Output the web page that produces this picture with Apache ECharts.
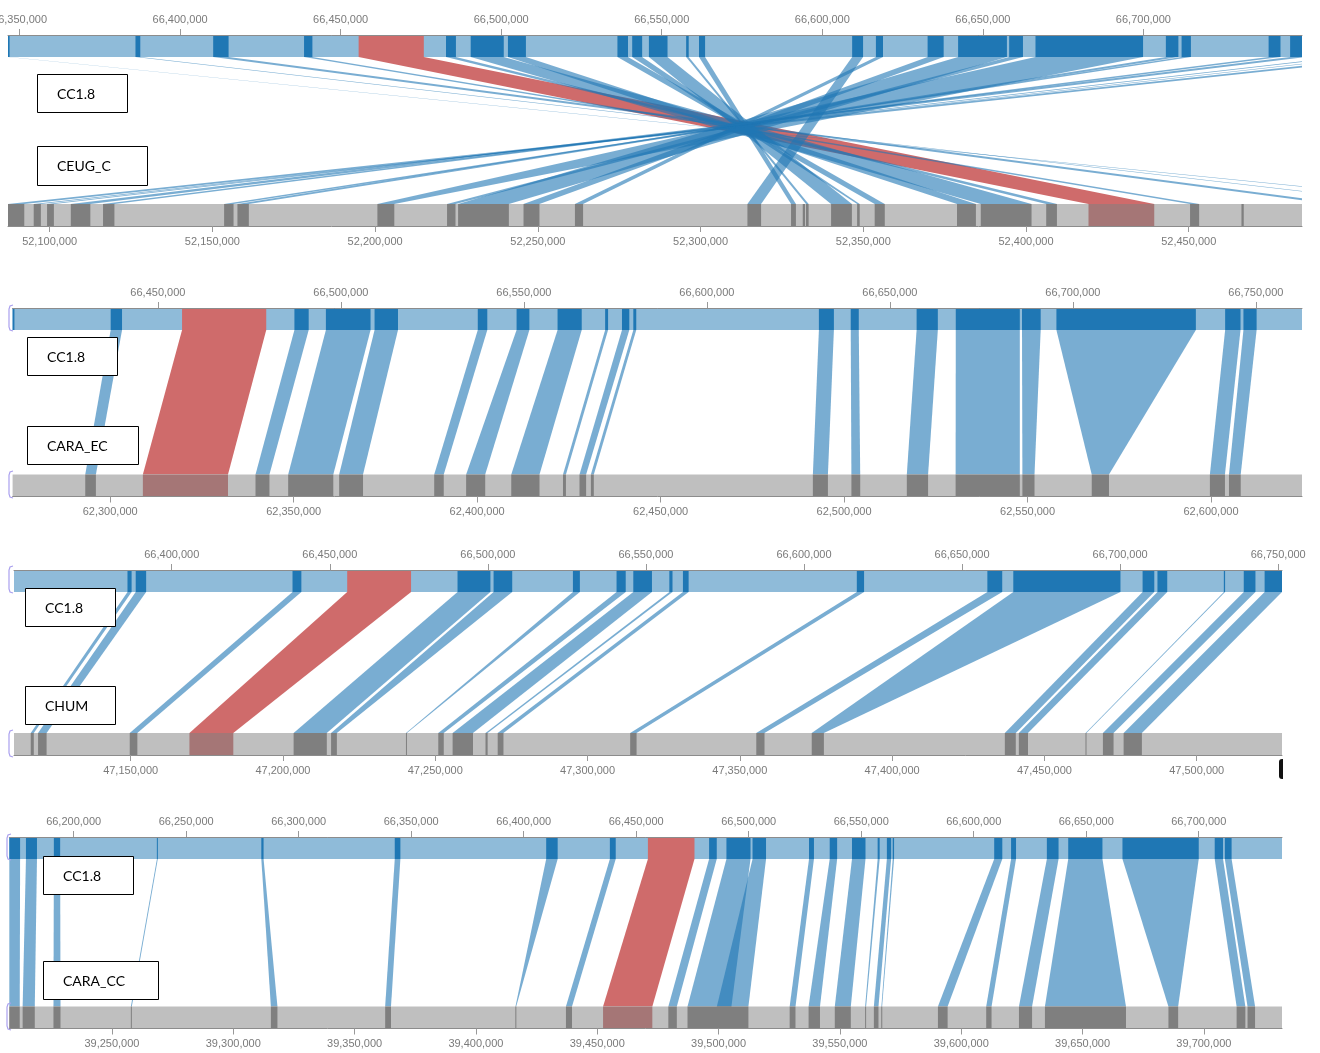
<!DOCTYPE html>
<html>
<head>
<meta charset="utf-8">
<script src="https://cdn.jsdelivr.net/npm/echarts@6/dist/echarts.min.js"></script>
<style>
  html, body { margin: 0; padding: 0; background: #ffffff; }
  #chart { width: 1320px; height: 1053px; }
</style>
</head>
<body>
<div id="chart"></div>
<script>
// Synteny blocks of CC1.8 against four other assemblies.
// Each link is [refStart, refEnd, otherStart, otherEnd] in base pairs.

// ---- CC1.8 vs CEUG_C ----
const p1Labels = ['CC1.8', 'CEUG_C'];
const p1TopRange = [66346400, 66749400];
const p1BottomRange = [52087200, 52484800];
const p1Highlight = [66455600, 66475900, 52419200, 52439400];
const p1Links = [
  [66346400, 66346900, 52538000, 52538900],
  [66386100, 66387600, 52518000, 52519600],
  [66410300, 66415100, 52493400, 52498000],
  [66438600, 66441200, 52450400, 52453200],
  [66482800, 66485900, 52406200, 52409500],
  [66490500, 66500800, 52386100, 52401700],
  [66502100, 66507700, 52378800, 52384600],
  [66536200, 66539500, 52353500, 52356600],
  [66540800, 66543900, 52348100, 52348900],
  [66546000, 66551800, 52340100, 52346500],
  [66557600, 66558400, 52332400, 52333200],
  [66561600, 66563500, 52327800, 52329300],
  [66609300, 66612700, 52314400, 52318600],
  [66616700, 66618900, 52261400, 52263900],
  [66632800, 66637800, 52245600, 52250500],
  [66642300, 66657500, 52225500, 52241100],
  [66658200, 66662500, 52222100, 52224700],
  [66666400, 66699900, 52200700, 52205900],
  [66707000, 66710900, 52157700, 52161200],
  [66711900, 66714800, 52153600, 52156500],
  [66739000, 66742700, 52116400, 52119900],
  [66745700, 66750600, 52106500, 52112500],
  [66761200, 66763100, 52099200, 52101300],
  [66768100, 66769900, 52095100, 52097300],
  [66775200, 66779900, 52087100, 52092200]
];
const p1TopExtra = [];
const p1BottomExtra = [[52331400, 52332100], [52466200, 52466900]];

// ---- CC1.8 vs CARA_EC ----
const p2Labels = ['CC1.8', 'CARA_EC'];
const p2TopRange = [66410300, 66762600];
const p2BottomRange = [62273400, 62624800];
const p2Highlight = [66456600, 66479600, 62308900, 62332100];
const p2Links = [
  [66437100, 66440200, 62293200, 62296100],
  [66487300, 66491200, 62339600, 62343400],
  [66495900, 66508100, 62348500, 62360800],
  [66509200, 66515600, 62362400, 62368900],
  [66537400, 66540000, 62388300, 62390900],
  [66548000, 66551500, 62397000, 62402200],
  [66559200, 66565800, 62409300, 62417000],
  [66572200, 66573000, 62423400, 62424200],
  [66576800, 66578800, 62427900, 62429700],
  [66579900, 66580700, 62431000, 62431800],
  [66630600, 66634700, 62491500, 62495600],
  [66639300, 66641500, 62502000, 62504400],
  [66657300, 66663100, 62517100, 62522900],
  [66668000, 66685500, 62530400, 62547900],
  [66686100, 66691200, 62548600, 62551900],
  [66695500, 66733600, 62567500, 62572200],
  [66741600, 66745800, 62599700, 62603800],
  [66746600, 66750200, 62604900, 62608100]
];
const p2TopExtra = [[66410300, 66410800]];
const p2BottomExtra = [];

// ---- CC1.8 vs CHUM ----
const p3Labels = ['CC1.8', 'CHUM'];
const p3TopRange = [66350100, 66751200];
const p3BottomRange = [47111700, 47528000];
const p3Highlight = [66455500, 66475700, 47169300, 47183700];
const p3Links = [
  [66386000, 66387300, 47117200, 47118200],
  [66388600, 66391900, 47119600, 47122400],
  [66438200, 66441000, 47149700, 47152200],
  [66490400, 66500800, 47203500, 47214400],
  [66501800, 66507700, 47215800, 47217700],
  [66526900, 66529100, 47240400, 47240700],
  [66540700, 66543600, 47251000, 47252800],
  [66546000, 66551900, 47255700, 47262400],
  [66557400, 66558400, 47266500, 47267200],
  [66561700, 66563500, 47270500, 47272400],
  [66616700, 66619000, 47314000, 47316100],
  [66658000, 66662700, 47355400, 47358100],
  [66666200, 66700100, 47373600, 47377600],
  [66707100, 66710800, 47437000, 47440600],
  [66711800, 66714900, 47441600, 47444600],
  [66732800, 66733200, 47463500, 47463800],
  [66739100, 66742800, 47469200, 47472700],
  [66745700, 66751200, 47476000, 47482000]
];
const p3TopExtra = [];
const p3BottomExtra = [];

// ---- CC1.8 vs CARA_CC ----
const p4Labels = ['CC1.8', 'CARA_CC'];
const p4TopRange = [66171400, 66737000];
const p4BottomRange = [39207700, 39732200];
const p4Highlight = [66455200, 66475900, 39452400, 39472700];
const p4Links = [
  [66171400, 66176200, 39207700, 39212000],
  [66178800, 66183700, 39213200, 39218200],
  [66191200, 66194000, 39225900, 39228800],
  [66237000, 66237400, 39257800, 39258200],
  [66283400, 66284400, 39315500, 39318200],
  [66342700, 66345200, 39362600, 39365000],
  [66410000, 66415100, 39416300, 39416600],
  [66438300, 66440900, 39437100, 39439600],
  [66482400, 66485800, 39479300, 39482800],
  [66490100, 66500800, 39487200, 39505300],
  [66501700, 66507700, 39499300, 39512300],
  [66526800, 66529000, 39529300, 39531700],
  [66536000, 66539300, 39537100, 39541800],
  [66545900, 66551900, 39547900, 39554500],
  [66557300, 66558200, 39560400, 39560800],
  [66561400, 66563300, 39564000, 39565900],
  [66564000, 66564600, 39567100, 39567400],
  [66609100, 66612700, 39590400, 39594400],
  [66616600, 66618800, 39610300, 39612500],
  [66632500, 66637700, 39623800, 39629200],
  [66642000, 66657200, 39634500, 39667900],
  [66666100, 66700000, 39685400, 39689400],
  [66707100, 66710800, 39713500, 39717100],
  [66711600, 66714600, 39718000, 39721100]
];
const p4TopExtra = [];
const p4BottomExtra = [];

const panels = [
  { labels: p1Labels, topRange: p1TopRange, bottomRange: p1BottomRange, highlight: p1Highlight, links: p1Links, topExtra: p1TopExtra, bottomExtra: p1BottomExtra },
  { labels: p2Labels, topRange: p2TopRange, bottomRange: p2BottomRange, highlight: p2Highlight, links: p2Links, topExtra: p2TopExtra, bottomExtra: p2BottomExtra },
  { labels: p3Labels, topRange: p3TopRange, bottomRange: p3BottomRange, highlight: p3Highlight, links: p3Links, topExtra: p3TopExtra, bottomExtra: p3BottomExtra },
  { labels: p4Labels, topRange: p4TopRange, bottomRange: p4BottomRange, highlight: p4Highlight, links: p4Links, topExtra: p4TopExtra, bottomExtra: p4BottomExtra }
];

// Page layout: track area of each panel, name boxes and the small left brackets.
const layout = [
  { grid: { left: 8, top: 35, width: 1294, height: 191 }, boxes: [[37, 74, 90, 38], [37, 146, 110, 39]], bracket: null },
  { grid: { left: 12.6, top: 308, width: 1289.4, height: 188.5 }, boxes: [[27, 337, 90, 38], [27, 426, 111, 38]], bracket: { x: 9, ys: [[305, 331], [471, 498]] } },
  { grid: { left: 14, top: 570, width: 1268, height: 185 }, boxes: [[25, 588, 90, 38], [25, 686, 90, 38]], bracket: { x: 9, ys: [[566, 593], [730, 757]] } },
  { grid: { left: 9.3, top: 837, width: 1272.7, height: 191.5 }, boxes: [[43, 856, 90, 38], [43, 961, 115, 38]], bracket: { x: 7, ys: [[834, 860], [1003, 1030]] } }
];

const BAR_H = 22;
const TOP_LIGHT = '#8fbbd9';
const TOP_DARK = '#1f77b4';
const BOTTOM_LIGHT = '#bfbfbf';
const BOTTOM_DARK = '#7f7f7f';
const RIBBON = 'rgba(31,119,180,0.6)';
const RED = '#cf6b6b';
const RED_BOTTOM = '#a57676';
const AXIS_FONT = 'Liberation Sans, Arial, sans-serif';

const chart = echarts.init(document.getElementById('chart'), null, { renderer: 'canvas' });

function fmt(v) {
  return String(Math.round(v)).replace(/\B(?=(\d{3})+(?!\d))/g, ',');
}

// Rectangles on the top (reference) or bottom track, positioned through the bound axis.
function trackItem(isTop) {
  return function (params, api) {
    const cs = params.coordSys;
    let x0 = api.coord([api.value(0), 0])[0];
    let x1 = api.coord([api.value(1), 0])[0];
    if (x1 - x0 < 1) { const m = (x0 + x1) / 2; x0 = m - 0.5; x1 = m + 0.5; }
    const y = isTop ? cs.y : cs.y + cs.height - BAR_H;
    return {
      type: 'rect',
      shape: { x: x0, y: y, width: x1 - x0, height: BAR_H },
      style: { fill: api.visual('color') }
    };
  };
}

// Ribbon between a reference interval (top axis) and a query interval (bottom axis).
function ribbonItem(bottomAxisIndex) {
  return function (params, api) {
    const cs = params.coordSys;
    const yTop = cs.y + BAR_H;
    const yBot = cs.y + cs.height - BAR_H;
    const a = api.coord([api.value(0), 0])[0];
    const b = api.coord([api.value(1), 0])[0];
    const c = chart.convertToPixel({ xAxisIndex: bottomAxisIndex }, api.value(3));
    const d = chart.convertToPixel({ xAxisIndex: bottomAxisIndex }, api.value(2));
    return {
      type: 'polygon',
      shape: { points: [[a, yTop], [b, yTop], [c, yBot], [d, yBot]] },
      style: { fill: api.visual('color') }
    };
  };
}

function axisDef(gridIndex, position, range, margin) {
  return {
    gridIndex: gridIndex,
    type: 'value',
    position: position,
    min: range[0],
    max: range[1],
    minInterval: 50000,
    maxInterval: 50000,
    axisLine: { show: true, onZero: false, lineStyle: { color: '#8c8c8c', width: 1 } },
    axisTick: { show: true, length: 6, lineStyle: { color: '#999999' } },
    axisLabel: {
      show: true, margin: margin, color: '#7a7a7a', fontSize: 11, fontFamily: AXIS_FONT,
      formatter: fmt, showMinLabel: false, showMaxLabel: false
    },
    splitLine: { show: false },
    z: 5
  };
}

const grids = [], xAxes = [], yAxes = [], series = [], graphic = [];

panels.forEach(function (p, i) {
  const L = layout[i];
  const topAx = 2 * i, botAx = 2 * i + 1;
  grids.push(Object.assign({ containLabel: false, outerBoundsMode: 'none' }, L.grid));
  xAxes.push(axisDef(i, 'top', p.topRange, 10));
  xAxes.push(axisDef(i, 'bottom', p.bottomRange, 10));
  yAxes.push({ gridIndex: i, type: 'value', min: 0, max: 1, show: false });

  const common = { type: 'custom', yAxisIndex: i, clip: true, silent: true, animation: false };

  // ribbons (highlighted one first, blue ones over it)
  series.push(Object.assign({}, common, {
    xAxisIndex: topAx, z: 1, itemStyle: { color: RED },
    renderItem: ribbonItem(botAx), data: [p.highlight]
  }));
  series.push(Object.assign({}, common, {
    xAxisIndex: topAx, z: 1, itemStyle: { color: RIBBON },
    renderItem: ribbonItem(botAx), data: p.links
  }));

  // reference track
  series.push(Object.assign({}, common, {
    xAxisIndex: topAx, z: 2, itemStyle: { color: TOP_LIGHT },
    renderItem: trackItem(true), data: [p.topRange]
  }));
  series.push(Object.assign({}, common, {
    xAxisIndex: topAx, z: 3, itemStyle: { color: TOP_DARK },
    renderItem: trackItem(true),
    data: p.links.map(function (l) { return [l[0], l[1]]; }).concat(p.topExtra)
  }));
  series.push(Object.assign({}, common, {
    xAxisIndex: topAx, z: 3, itemStyle: { color: RED },
    renderItem: trackItem(true), data: [[p.highlight[0], p.highlight[1]]]
  }));

  // query track
  series.push(Object.assign({}, common, {
    xAxisIndex: botAx, z: 2, itemStyle: { color: BOTTOM_LIGHT },
    renderItem: trackItem(false), data: [p.bottomRange]
  }));
  series.push(Object.assign({}, common, {
    xAxisIndex: botAx, z: 3, itemStyle: { color: BOTTOM_DARK },
    renderItem: trackItem(false),
    data: p.links.map(function (l) { return [l[2], l[3]]; }).concat(p.bottomExtra)
  }));
  series.push(Object.assign({}, common, {
    xAxisIndex: botAx, z: 3, itemStyle: { color: RED_BOTTOM },
    renderItem: trackItem(false), data: [[p.highlight[2], p.highlight[3]]]
  }));

  // name boxes
  L.boxes.forEach(function (b, j) {
    graphic.push({
      type: 'rect', z: 20, silent: true,
      shape: { x: b[0] + 0.5, y: b[1] + 0.5, width: b[2], height: b[3] },
      style: { fill: '#ffffff', stroke: '#000000', lineWidth: 1 }
    });
    graphic.push({
      type: 'text', z: 21, silent: true,
      x: b[0] + 20, y: b[1] + b[3] / 2 + 1,
      style: { text: p.labels[j], fontFamily: 'Lato, Open Sans, sans-serif', fontSize: 14, fill: '#000000', verticalAlign: 'middle', align: 'left' }
    });
  });

  // small brackets at the left end of the tracks
  if (L.bracket) {
    L.bracket.ys.forEach(function (yy) {
      const x = L.bracket.x, y0 = yy[0], y1 = yy[1];
      graphic.push({
        type: 'polyline', z: 20, silent: true,
        shape: { points: [[x + 4, y0], [x + 1, y0 + 1], [x, y0 + 4], [x, y1 - 4], [x + 1, y1 - 1], [x + 4, y1]] },
        style: { fill: null, stroke: '#aaa0ee', lineWidth: 1.2 }
      });
    });
  }
});

// dark mark at the lower right of the third panel
graphic.push({
  type: 'rect', z: 20, silent: true,
  shape: { x: 1279, y: 759, width: 4, height: 20, r: [3, 0, 0, 3] },
  style: { fill: '#111111' }
});

chart.setOption({
  animation: false,
  backgroundColor: '#ffffff',
  grid: grids,
  xAxis: xAxes,
  yAxis: yAxes,
  series: series,
  graphic: graphic
});
</script>
</body>
</html>
